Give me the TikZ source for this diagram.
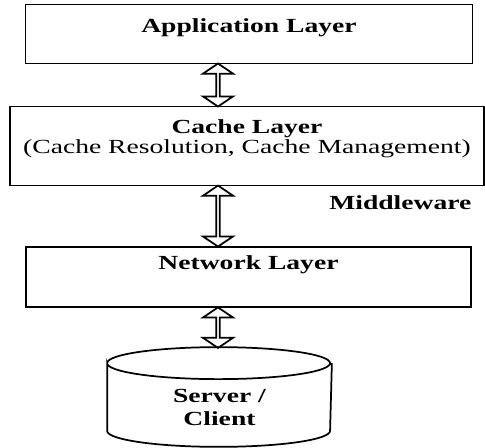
\documentclass[tikz,border=0pt]{standalone}
\usepackage{fontspec}
\setmainfont[FakeStretch=1.38]{Liberation Serif}
\usetikzlibrary{positioning,calc,shapes.geometric,shapes.arrows}

\begin{document}
\begin{tikzpicture}[x=0.75pt, y=-0.75pt, font=\fontsize{15}{17.25}\selectfont, line width=1.3pt,
layer/.style={draw, inner sep=0pt, align=center},
updown/.style={draw, double arrow, shape border rotate=90, inner sep=0pt, minimum width=22.5pt, double arrow head extend=4.9pt, double arrow tip angle=112},
store/.style={inner sep=0pt, align=center, minimum width=167.25pt, minimum height=73.5pt, text height=58.5pt, text depth=15pt, font=\fontsize{15}{17.25}\selectfont\bfseries},
drumcap/.style={x radius=83.6pt, y radius=12pt}]
\useasboundingbox (0,0) rectangle (485,448);
\coordinate (axis) at (218,0);
\node[layer, minimum width=335.25pt, text height=21.4pt, text depth=22.9pt] (app) at (249,34) {\textbf{Application Layer}};
\node[layer, minimum width=355.5pt, text height=35.6pt, text depth=23.6pt, font=\fontsize{15}{15.5}\selectfont] (cache) at (247,146) {\textbf{Cache Layer}\\(Cache Resolution, Cache Management)};
\node[layer, minimum width=333.75pt, text height=17.5pt, text depth=28pt] (net) at (248.5,277) {\textbf{Network Layer}};
\node[store] (srv) at (219.5,397) {Server /\\Client};
\node[anchor=base west, font=\fontsize{15}{17.25}\selectfont\bfseries] (mw) at (324,210) {Middleware};
% drum outline round the server node
\draw ([yshift=-12pt]srv.north west) arc[drumcap, start angle=180, end angle=-180]
  -- ([yshift=12pt]srv.south west) arc[drumcap, start angle=180, end angle=360]
  -- ([yshift=-12pt]srv.north east);
% hollow two-way arrows between the layers
\node[updown, minimum height=32.25pt] (up1) at ($(axis |- app.south)!.5!(axis |- cache.north)$) {};
\node[updown, minimum height=45.75pt] (up2) at ($(axis |- cache.south)!.5!(axis |- net.north)$) {};
\node[updown, minimum height=30.4pt] (up3) at ($(axis |- net.south)!.5!(axis |- srv.north)$) {};
\end{tikzpicture}
\end{document}
